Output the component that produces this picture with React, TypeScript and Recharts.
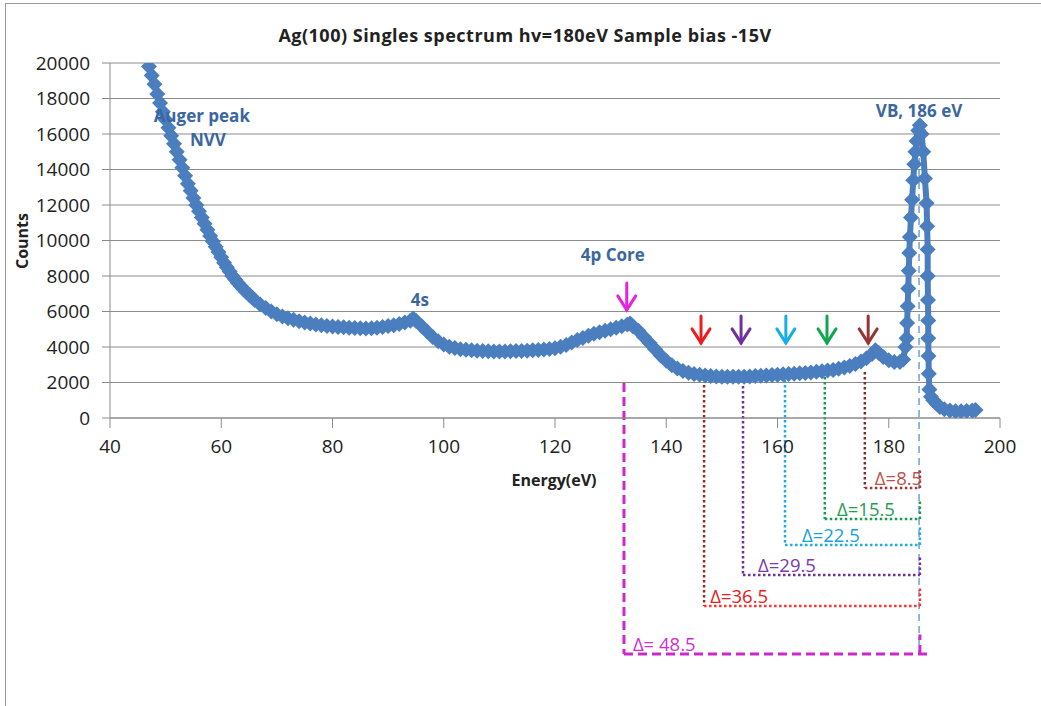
import { CartesianGrid, ReferenceDot, ReferenceLine, Scatter, ScatterChart, XAxis, YAxis } from "recharts";

const BLUE = "#4a7ebf";
const NOTE_BLUE = "#3b66a0";
const GRID = "#8c8c8c";
const INK = "#222";
const FONT = "'Open Sans', 'Noto Sans', sans-serif";

const X_TICKS = [40, 60, 80, 100, 120, 140, 160, 180, 200];
const Y_TICKS = [0, 2000, 4000, 6000, 8000, 10000, 12000, 14000, 16000, 18000, 20000];

// [energy (eV), counts]
const AUGER_NVV: [number, number][] = [
  [47, 19800], [47.5, 19300], [48, 18800], [48.5, 18250], [49, 17750], [49.5, 17250],
  [50, 16800], [50.5, 16350], [51, 15900], [51.5, 15450], [52, 15000], [52.5, 14550],
  [53, 14100], [53.5, 13650], [54, 13200], [54.5, 12800], [55, 12400], [55.5, 12000],
  [56, 11650], [56.5, 11300], [57, 10950], [57.5, 10600], [58, 10250], [58.5, 9950],
  [59, 9650], [59.5, 9350], [60, 9050], [60.5, 8750], [61, 8500], [61.5, 8250],
  [62, 8000], [62.5, 7800], [63, 7600], [63.5, 7420], [64, 7250], [64.5, 7100], [65, 6950],
  [65.5, 6800], [66, 6650], [67, 6400], [68, 6200], [69, 6000], [70, 5850],
];

const PLATEAU_4S: [number, number][] = [
  [71, 5720], [72, 5620], [73, 5530], [74, 5450], [75, 5380], [76, 5320], [77, 5270],
  [78, 5230], [79, 5190], [80, 5160], [81, 5130], [82, 5110], [83, 5090], [84, 5070],
  [85, 5050], [86, 5040], [87, 5060], [88, 5090], [89, 5130], [90, 5180], [91, 5230],
  [92, 5300], [93, 5380], [94, 5480], [94.5, 5600], [95, 5480], [96, 5180], [97, 4870],
  [98, 4570], [99, 4320], [100, 4140], [101, 4020], [102, 3940], [103, 3880], [104, 3840],
  [105, 3810], [106, 3790], [107, 3770], [108, 3760], [109, 3750], [110, 3750],
];

const CORE_4P: [number, number][] = [
  [111, 3750], [112, 3760], [113, 3770], [114, 3780], [115, 3790], [116, 3810], [117, 3830],
  [118, 3860], [119, 3890], [120, 3930], [121, 4010], [122, 4110], [123, 4250], [124, 4400],
  [125, 4510], [126, 4630], [127, 4740], [128, 4830], [129, 4920], [130, 5000], [131, 5080],
  [132, 5170], [133, 5270], [133.5, 5330], [134, 5170], [135, 4920], [136, 4570], [137, 4220],
  [138, 3870], [139, 3520], [140, 3220], [141, 2970], [142, 2790], [143, 2650], [144, 2550],
  [145, 2480],
];

const LOSS_REGION: [number, number][] = [
  [146, 2430], [147, 2390], [148, 2360], [149, 2340], [150, 2330], [151, 2320], [152, 2320],
  [153, 2320], [154, 2330], [155, 2340], [156, 2360], [157, 2380], [158, 2400], [159, 2420],
  [160, 2440], [161, 2460], [162, 2480], [163, 2500], [164, 2520], [165, 2540], [166, 2570],
  [167, 2600], [168, 2630], [169, 2670], [170, 2710], [171, 2770], [172, 2840], [173, 2930],
  [174, 3040], [175, 3180], [176, 3360], [177, 3600], [177.6, 3820], [178.2, 3660],
  [179, 3430], [180, 3260], [181, 3160], [182, 3160],
];

const VB_PEAK: [number, number][] = [
  [182.6, 3300], [183.0, 4000], [183.2, 4500], [183.3, 5350], [183.4, 6300], [183.5, 7300],
  [183.6, 8300], [183.7, 9300], [183.8, 10200], [184.0, 11300], [184.2, 12300], [184.4, 13400],
  [184.6, 14300], [184.8, 15000], [185.0, 15600], [185.3, 16200], [185.6, 16500], [185.9, 16000],
  [186.2, 15000], [186.5, 13500], [186.8, 12100], [186.9, 10800], [187.0, 9500], [187.0, 8000],
  [187.05, 6650], [187.1, 5500], [187.1, 4500], [187.15, 3500], [187.2, 2500], [187.3, 1600],
  [187.6, 1200], [188.0, 1000], [188.6, 800], [189.2, 620], [190, 500], [191, 420],
  [192, 380], [193, 380], [194, 400], [195, 420], [195.6, 450],
];

const SPECTRUM = [...AUGER_NVV, ...PLATEAU_4S, ...CORE_4P, ...LOSS_REGION, ...VB_PEAK].map(
  ([e, c]) => ({ e, c })
);

// peak labels: energy, counts at text baseline
const PEAK_NOTES = [
  { text: "Auger peak", e: 56.5, c: 16680 },
  { text: "NVV", e: 57.6, c: 15330 },
  { text: "VB, 186 eV", e: 185.45, c: 16960 },
  { text: "4s", e: 95.7, c: 6310 },
  { text: "4p Core", e: 130.4, c: 8850 },
];

// loss features: arrow energy, arrow tip counts
const ARROWS = [
  { e: 132.9, tip: 6090, color: "#e024e0" },
  { e: 146.25, tip: 4230, color: "#ee1c1c" },
  { e: 153.45, tip: 4230, color: "#7030a0" },
  { e: 161.5, tip: 4230, color: "#16aee8" },
  { e: 168.9, tip: 4230, color: "#12a650" },
  { e: 176.3, tip: 4230, color: "#943634" },
];

// energy-difference brackets down to the VB line
const VB_E = 185.45;
const BRACKETS = [
  { label: "Δ=8.5", e: 175.7, top: 2590, bottom: -3944, end: 185.6, textE: 177.5, line: "#7b2e2b", h: "#9a3a36", text: "#c0504d", dash: "2.5 2.5", w: 2.5 },
  { label: "Δ=15.5", e: 168.5, top: 2590, bottom: -5690, end: 185.6, textE: 170.7, line: "#1a9a50", h: "#1a9a50", text: "#1fa050", dash: "2.5 2.5", w: 2.5 },
  { label: "Δ=22.5", e: 161.35, top: 2420, bottom: -7155, end: 185.6, textE: 164.4, line: "#1aaee8", h: "#1aaee8", text: "#1aa0e0", dash: "2.5 2.5", w: 2.5 },
  { label: "Δ=29.5", e: 153.8, top: 1800, bottom: -8845, end: 185.6, textE: 156.5, line: "#7030a0", h: "#7030a0", text: "#7a3aa8", dash: "2.5 2.5", w: 2.5 },
  { label: "Δ=36.5", e: 146.8, top: 1860, bottom: -10592, end: 185.6, textE: 147.9, line: "#9a2a28", h: "#ff3030", text: "#e42020", dash: "2.5 2.5", w: 2.5 },
  { label: "Δ= 48.5", e: 132.4, top: 1970, bottom: -13296, end: 187.05, textE: 134.0, line: "#cc28cc", h: "#cc28cc", text: "#d030d0", dash: "9 5", w: 3 },
];

const Diamond = (p: any) => {
  const { cx, cy } = p;
  const r = 8;
  return <polygon points={`${cx},${cy - r} ${cx + r},${cy} ${cx},${cy + r} ${cx - r},${cy}`} fill={BLUE} />;
};

const Arrow = (color: string) => (p: any) => {
  const { cx, cy } = p;
  return (
    <g stroke={color} strokeWidth={3} fill="none" strokeLinecap="round">
      <line x1={cx} y1={cy - 27} x2={cx} y2={cy} />
      <polyline points={`${cx - 9},${cy - 14} ${cx},${cy} ${cx + 9},${cy - 14}`} />
    </g>
  );
};

const Note = (text: string, color: string, size: number, bold: boolean, anchor: "start" | "middle") => (p: any) => (
  <text
    x={p.cx}
    y={p.cy}
    fill={color}
    fontSize={size}
    fontWeight={bold ? 700 : 400}
    fontFamily={FONT}
    textAnchor={anchor}
  >
    {text}
  </text>
);

export default function App() {
  return (
    <div style={{ position: "absolute", left: 0, top: 0, width: 1041, height: 706, background: "#fff" }}>
      <ScatterChart width={1041} height={706} margin={{ top: 63, right: 41, left: 10, bottom: 248 }}>
        <CartesianGrid vertical={false} stroke={GRID} />
        <XAxis
          type="number"
          dataKey="e"
          domain={[40, 200]}
          ticks={X_TICKS}
          height={40}
          stroke={GRID}
          tickSize={10}
          tickMargin={12}
          tick={{ fill: INK, fontSize: 19, fontFamily: FONT }}
          allowDataOverflow
        />
        <YAxis
          type="number"
          dataKey="c"
          domain={[0, 20000]}
          ticks={Y_TICKS}
          width={100}
          stroke={GRID}
          tickSize={8}
          tickMargin={12}
          tick={{ fill: INK, fontSize: 19, fontFamily: FONT }}
          allowDataOverflow
        />
        {BRACKETS.map((b) => (
          <ReferenceLine
            key={b.label + "v"}
            segment={[{ x: b.e, y: b.top }, { x: b.e, y: b.bottom }]}
            stroke={b.line}
            strokeWidth={b.w}
            strokeDasharray={b.dash}
            ifOverflow="visible"
          />
        ))}
        <ReferenceLine
          segment={[{ x: VB_E, y: 16000 }, { x: VB_E, y: -13296 }]}
          stroke="#6f9fd8"
          strokeWidth={1.5}
          strokeDasharray="7 5"
          ifOverflow="visible"
        />
        {BRACKETS.map((b) => (
          <ReferenceLine
            key={b.label + "h"}
            segment={[{ x: b.e, y: b.bottom }, { x: b.end, y: b.bottom }]}
            stroke={b.h}
            strokeWidth={b.w}
            strokeDasharray={b.dash}
            ifOverflow="visible"
          />
        ))}
        {BRACKETS.map((b) => (
          <ReferenceLine
            key={b.label + "r"}
            segment={[{ x: 185.6, y: b.bottom }, { x: 185.6, y: b.bottom + 1100 }]}
            stroke={b.h}
            strokeWidth={b.w}
            strokeDasharray={b.dash}
            ifOverflow="visible"
          />
        ))}
        <Scatter
          data={SPECTRUM}
          fill={BLUE}
          line={{ stroke: BLUE, strokeWidth: 6 }}
          shape={Diamond}
          isAnimationActive={false}
        />
        {ARROWS.map((a) => (
          <ReferenceDot key={"a" + a.e} x={a.e} y={a.tip} ifOverflow="visible" shape={Arrow(a.color)} />
        ))}
        {PEAK_NOTES.map((n) => (
          <ReferenceDot key={n.text} x={n.e} y={n.c} ifOverflow="visible" shape={Note(n.text, NOTE_BLUE, 17, true, "middle")} />
        ))}
        {BRACKETS.map((b) => (
          <ReferenceDot
            key={b.label + "t"}
            x={b.textE}
            y={b.bottom + 150}
            ifOverflow="visible"
            shape={Note(b.label, b.text, 18.5, false, "start")}
          />
        ))}
      </ScatterChart>
      <svg width={1041} height={706} style={{ position: "absolute", left: 0, top: 0, pointerEvents: "none" }}>
        <line x1={5.5} y1={3} x2={5.5} y2={706} stroke="#999" />
        <line x1={5} y1={3.5} x2={1041} y2={3.5} stroke="#999" />
        <text x={525} y={42} textAnchor="middle" fontFamily={FONT} fontWeight={700} fontSize={18} letterSpacing={0.5} fill={INK}>
          Ag(100) Singles spectrum hv=180eV Sample bias -15V
        </text>
        <text x={554} y={486} textAnchor="middle" fontFamily={FONT} fontWeight={700} fontSize={16} fill={INK}>
          Energy(eV)
        </text>
        <text
          transform="translate(28 241) rotate(-90)"
          textAnchor="middle"
          fontFamily={FONT}
          fontWeight={700}
          fontSize={16}
          fill={INK}
        >
          Counts
        </text>
      </svg>
    </div>
  );
}
